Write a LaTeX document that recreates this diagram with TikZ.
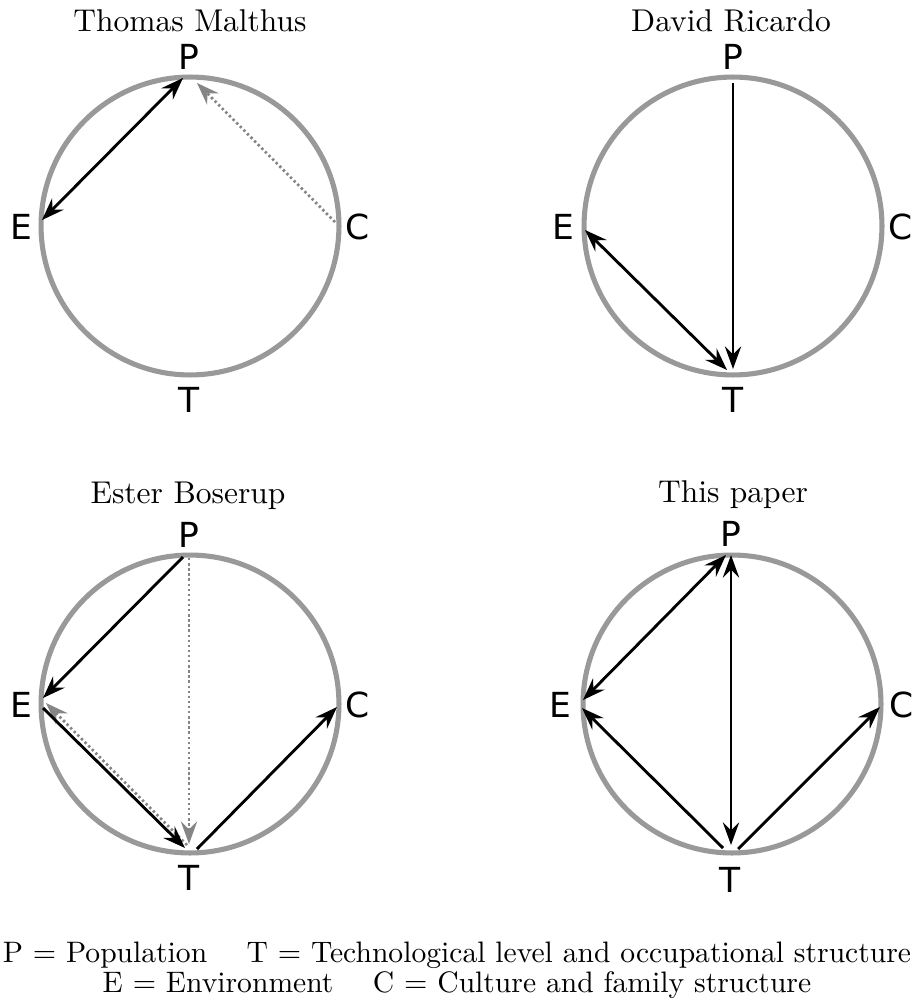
\documentclass[tikz,border=0pt]{standalone}
\usepackage{fontspec}
\newfontfamily\lblfont{DejaVu Sans}
\usetikzlibrary{arrows.meta}
\definecolor{ringgray}{HTML}{999999}
\definecolor{dotgray}{HTML}{858585}
\begin{document}
\begin{tikzpicture}[x=0.33333pt,y=-0.33333pt,
  ring/.style={draw=ringgray, line width=1.7pt, circle, minimum size=99.3pt, inner sep=0pt, outer sep=0pt},
  lab/.style={font=\lblfont\fontsize{11.5}{13}\selectfont, inner sep=0pt},
  ttl/.style={font=\fontsize{10.5}{12}\selectfont, anchor=base, inner sep=0pt},
  leg/.style={font=\fontsize{9.87}{11}\selectfont, anchor=base, inner sep=0pt},
  arr/.style={draw=black, line width=0.95pt, -{Stealth[length=7.5pt,width=5.4pt,inset=2.6pt]}},
  darr/.style={draw=black, line width=0.95pt, {Stealth[length=7.5pt,width=5.4pt,inset=2.6pt]}-{Stealth[length=7.5pt,width=5.4pt,inset=2.6pt]}},
  dotarr/.style={draw=dotgray, line width=0.9pt, dash pattern=on 0.8pt off 0.9pt, -{Stealth[length=7.5pt,width=5.4pt,inset=2.6pt,fill=dotgray]}}
]
\useasboundingbox (0,0) rectangle (916,999);

% ---------- Thomas Malthus ----------
\node[ttl] (t1) at (190,32) {Thomas Malthus};
\node[ring] (c1) at (190,226) {};
\node[lab] (m-P) at (189,57) {P};
\node[lab] (m-E) at (21,227) {E};
\node[lab] (m-C) at (358,227) {C};
\node[lab] (m-T) at (189,400) {T};
\coordinate (mE1) at (42,220);
\coordinate (mP1) at (183,78);
\coordinate (mC1) at (335,222);
\coordinate (mP2) at (197,83);
\draw[darr] (mE1) -- (mP1);
\draw[dotarr] (mC1) -- (mP2);

% ---------- David Ricardo ----------
\node[ttl] (t2) at (731,32) {David Ricardo};
\node[ring] (c2) at (733,226) {};
\node[lab] (r-P) at (733,57) {P};
\node[lab] (r-E) at (563,227) {E};
\node[lab] (r-C) at (901,227) {C};
\node[lab] (r-T) at (733,400) {T};
\coordinate (rP) at (733,83);
\coordinate (rT) at (733,369);
\coordinate (rE) at (585,230);
\coordinate (rT2) at (727,370);
\draw[arr] (rP) -- (rT);
\draw[darr] (rE) -- (rT2);

% ---------- Ester Boserup ----------
\node[ttl] (t3) at (188,503) {Ester Boserup};
\node[ring] (c3) at (190,704) {};
\node[lab] (b-P) at (189,535) {P};
\node[lab] (b-E) at (21,705) {E};
\node[lab] (b-C) at (358,705) {C};
\node[lab] (b-T) at (189,878) {T};
\coordinate (bP1) at (183,557);
\coordinate (bE1) at (43,698);
\coordinate (bE2) at (43,708);
\coordinate (bT1) at (185,848);
\coordinate (bT2) at (197,849);
\coordinate (bC) at (337,707);
\coordinate (bP2) at (189,558);
\coordinate (bT3) at (189,844);
\coordinate (bT4) at (187,845);
\coordinate (bE3) at (46,703);
\draw[dotarr] (bP2) -- (bT3);
\draw[dotarr] (bT4) -- (bE3);
\draw[arr] (bP1) -- (bE1);
\draw[arr] (bE2) -- (bT1);
\draw[arr] (bT2) -- (bC);

% ---------- This paper ----------
\node[ttl] (t4) at (733,502) {This paper};
\node[ring] (c4) at (732,704) {};
\node[lab] (p-P) at (731,534) {P};
\node[lab] (p-E) at (560,705) {E};
\node[lab] (p-C) at (902,705) {C};
\node[lab] (p-T) at (730,880) {T};
\coordinate (pE1) at (583,700);
\coordinate (pP1) at (726,555);
\coordinate (pP2) at (731,555);
\coordinate (pT1) at (731,845);
\coordinate (pT2) at (723,848);
\coordinate (pE2) at (582,708);
\coordinate (pT3) at (738,849);
\coordinate (pC) at (880,707);
\draw[darr] (pE1) -- (pP1);
\draw[darr] (pP2) -- (pT1);
\draw[arr] (pT2) -- (pE2);
\draw[arr] (pT3) -- (pC);

% ---------- legend ----------
\node[leg] (leg1) at (457,962) {P $=$ Population \quad T $=$ Technological level and occupational structure};
\node[leg] (leg2) at (457,992) {E $=$ Environment \quad C $=$ Culture and family structure};
\end{tikzpicture}
\end{document}
